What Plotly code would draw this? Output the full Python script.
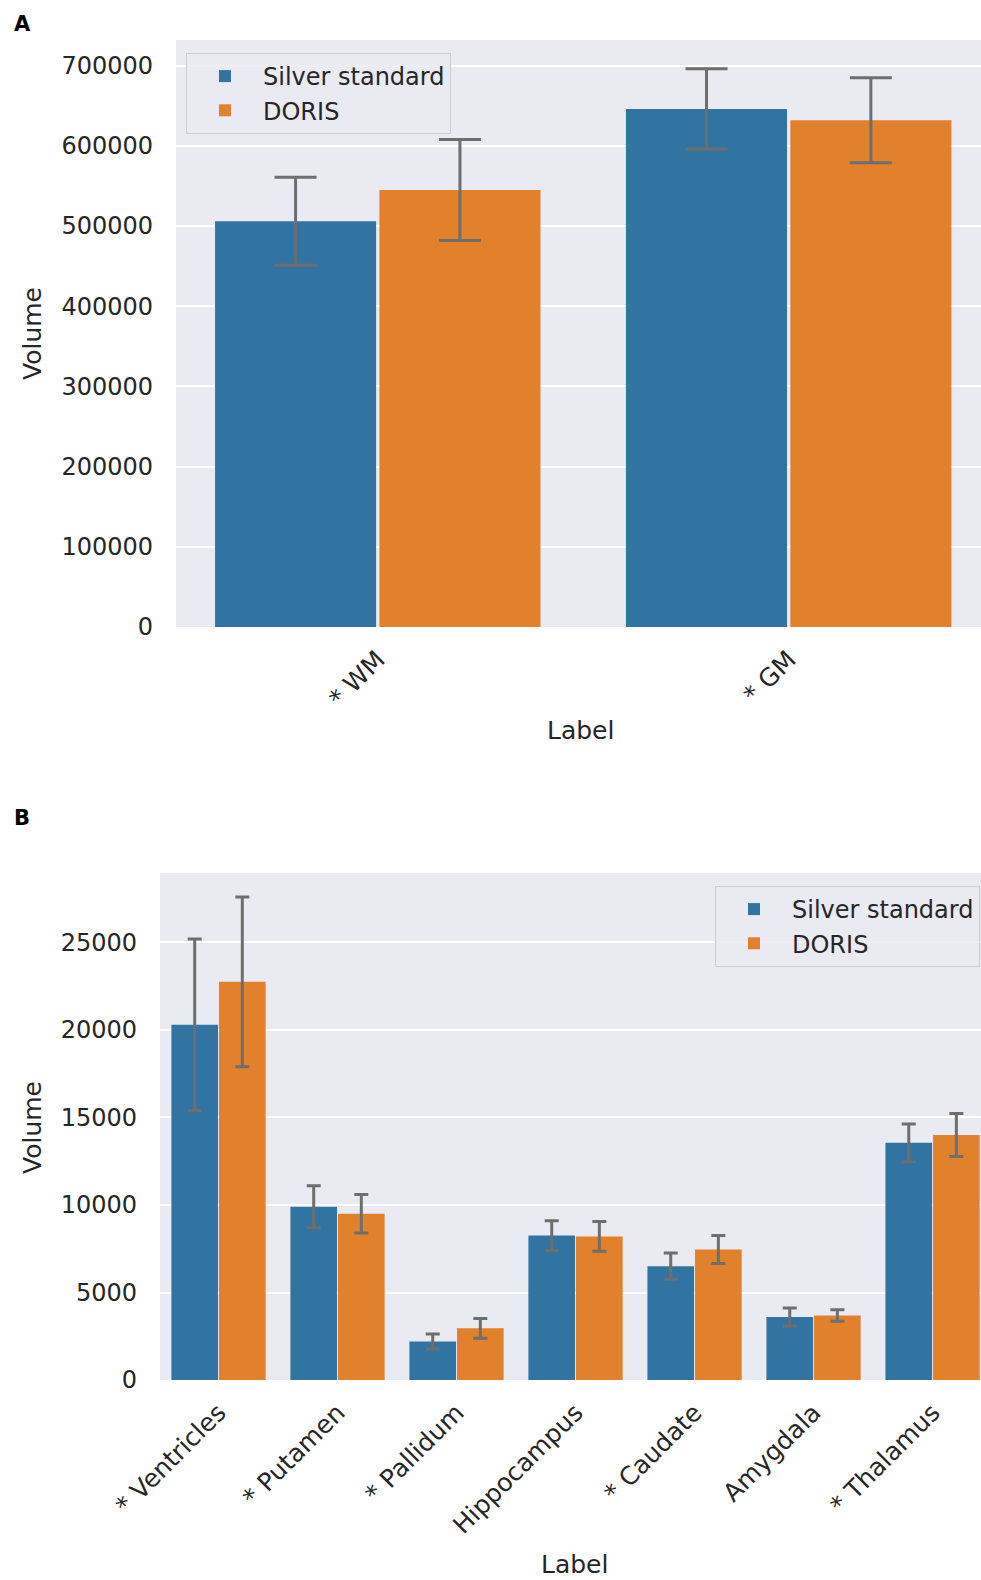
import plotly.graph_objects as go

# ---------------- data ----------------
series_names = ["Silver standard", "DORIS"]

cats_a = ["* WM", "* GM"]
silver_a = [506000, 646000]
silver_a_err = [55000, 50000]
doris_a = [545000, 632000]
doris_a_err = [63000, 53000]

cats_b = ["* Ventricles", "* Putamen", "* Pallidum", "Hippocampus",
          "* Caudate", "Amygdala", "* Thalamus"]
silver_b = [20300, 9900, 2200, 8250, 6500, 3600, 13550]
silver_b_err = [4900, 1200, 430, 850, 750, 520, 1080]
doris_b = [22750, 9500, 2950, 8200, 7450, 3680, 14000]
doris_b_err = [4850, 1100, 570, 850, 800, 330, 1230]

yticks_a = [0, 100000, 200000, 300000, 400000, 500000, 600000, 700000]
yticks_b = [0, 5000, 10000, 15000, 20000, 25000]

# ---------------- style ----------------
BLUE = "#3274a1"
ORANGE = "#e1812c"
ERR = "#6e6e6e"
BG = "#eaeaf2"
TXT = "#262626"
FONT = "DejaVu Sans"
W, H = 981, 1580

fig = go.Figure()

def add_pair(cats, s, se, d, de, xa, ya, legend, capw):
    fig.add_trace(go.Bar(
        x=cats, y=s, name=series_names[0], marker_color=BLUE,
        marker_line_width=0,
        error_y=dict(type="data", array=se, color=ERR, thickness=3, width=capw),
        xaxis=xa, yaxis=ya, legend=legend))
    fig.add_trace(go.Bar(
        x=cats, y=d, name=series_names[1], marker_color=ORANGE,
        marker_line_width=0,
        error_y=dict(type="data", array=de, color=ERR, thickness=3, width=capw),
        xaxis=xa, yaxis=ya, legend=legend))

add_pair(cats_a, silver_a, silver_a_err, doris_a, doris_a_err, "x", "y", "legend", 21)
add_pair(cats_b, silver_b, silver_b_err, doris_b, doris_b_err, "x2", "y2", "legend2", 7)

tickfont = dict(family=FONT, size=24, color=TXT)
xtickfont = dict(family=FONT, size=25, color=TXT)

def yaxis(domain, rng, ticks, anchor):
    return dict(domain=domain, range=rng, tickvals=ticks,
                ticktext=[str(t) for t in ticks],
                showgrid=True, gridcolor="white", gridwidth=2,
                zeroline=False, showline=False, ticks="",
                tickfont=tickfont, ticklabelstandoff=22, anchor=anchor,
                automargin=False, fixedrange=True)

def xaxis(domain, rng, anchor):
    return dict(domain=domain, range=rng, showgrid=False, zeroline=False,
                showline=False, ticks="", tickangle=-45, tickfont=xtickfont,
                ticklabelstandoff=12, anchor=anchor, type="category",
                automargin=False, fixedrange=True)

ya_dom = [1 - 627 / H, 1 - 40 / H]
yb_dom = [1 - 1380 / H, 1 - 873 / H]

fig.update_layout(
    width=W, height=H,
    margin=dict(l=0, r=0, t=0, b=0, autoexpand=False),
    paper_bgcolor="white", plot_bgcolor=BG,
    barmode="group", bargap=0.2, bargroupgap=0.02,
    font=dict(family=FONT, size=24, color=TXT),
    xaxis=xaxis([176 / W, 1], [-0.491, 1.468], "y"),
    yaxis=yaxis(ya_dom, [0, 732000], yticks_a, "x"),
    xaxis2=xaxis([160 / W, 1], [-0.4916, 6.407], "y2"),
    yaxis2=yaxis(yb_dom, [0, 28970], yticks_b, "x2"),
    legend=dict(x=186 / W, y=1 - 53 / H, xanchor="left", yanchor="top",
                bgcolor="rgba(234,234,242,0.85)", bordercolor="#cccccc",
                borderwidth=1, font=dict(family=FONT, size=24, color=TXT),
                itemwidth=66, tracegroupgap=0),
    legend2=dict(x=980 / W, y=1 - 886 / H, xanchor="right", yanchor="top",
                 bgcolor="rgba(234,234,242,0.85)", bordercolor="#cccccc",
                 borderwidth=1, font=dict(family=FONT, size=24, color=TXT),
                 itemwidth=66, tracegroupgap=0),
    showlegend=True,
)

ann = []
ann.append(dict(text="<b>A</b>", x=12 / W, y=1 - 24 / H, xref="paper", yref="paper",
                xanchor="left", yanchor="middle", showarrow=False,
                font=dict(family=FONT, size=21, color="black")))
ann.append(dict(text="<b>B</b>", x=12 / W, y=1 - 818 / H, xref="paper", yref="paper",
                xanchor="left", yanchor="middle", showarrow=False,
                font=dict(family=FONT, size=21, color="black")))
ann.append(dict(text="Volume", x=32 / W, y=1 - 334 / H, xref="paper", yref="paper",
                textangle=-90, xanchor="center", yanchor="middle", showarrow=False,
                font=dict(family=FONT, size=25, color=TXT)))
ann.append(dict(text="Volume", x=32 / W, y=1 - 1128 / H, xref="paper", yref="paper",
                textangle=-90, xanchor="center", yanchor="middle", showarrow=False,
                font=dict(family=FONT, size=25, color=TXT)))
ann.append(dict(text="Label", x=580 / W, y=1 - 730 / H, xref="paper", yref="paper",
                xanchor="center", yanchor="middle", showarrow=False,
                font=dict(family=FONT, size=25, color=TXT)))
ann.append(dict(text="Label", x=574 / W, y=1 - 1564 / H, xref="paper", yref="paper",
                xanchor="center", yanchor="middle", showarrow=False,
                font=dict(family=FONT, size=25, color=TXT)))
fig.update_layout(annotations=ann)

fig.write_html("out.html")
